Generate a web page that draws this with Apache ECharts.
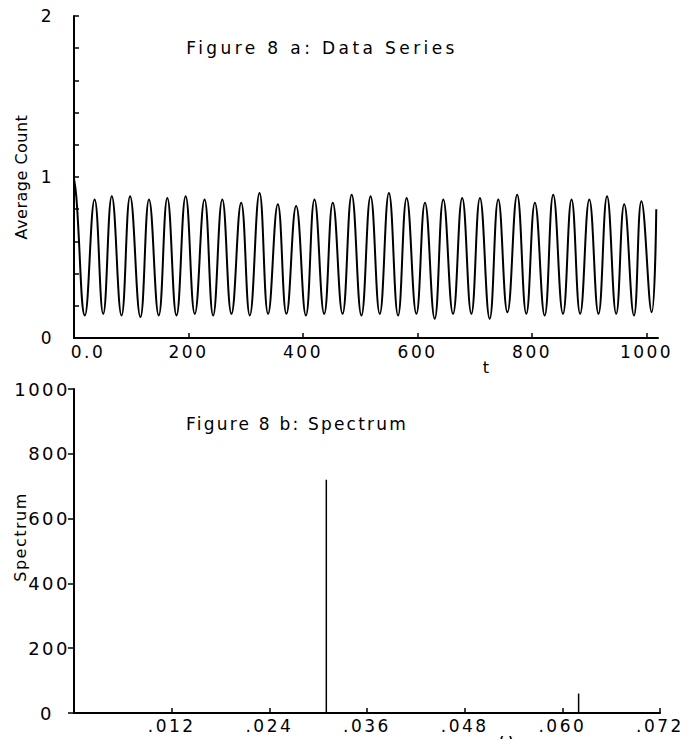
<!DOCTYPE html>
<html>
<head>
<meta charset="utf-8">
<script src="https://cdn.jsdelivr.net/npm/echarts@6/dist/echarts.min.js"></script>
<style>
  html, body { margin: 0; padding: 0; background: #fff; }
  #chart { width: 690px; height: 739px; }
</style>
</head>
<body>
<div id="chart"></div>
<script>
// Figure 8a: average count over time, sampled at each crest and trough
const timeT = [0, 4, 19, 36, 51, 66, 83, 98, 116, 131, 148, 163, 179, 195, 211, 228,
  243, 259, 275, 292, 307, 324, 339, 356, 371, 388, 405, 420, 437, 452, 469, 485,
  502, 518, 534, 550, 566, 581, 598, 613, 630, 645, 662, 678, 694, 709, 726, 741,
  757, 774, 790, 805, 822, 837, 854, 869, 884, 900, 916, 931, 947, 961, 978, 991,
  1009, 1017];
const averageCount = [0.99, 0.88, 0.14, 0.86, 0.15, 0.88, 0.14, 0.88, 0.13, 0.86, 0.14, 0.87,
  0.14, 0.88, 0.15, 0.86, 0.14, 0.86, 0.15, 0.84, 0.14, 0.90, 0.15, 0.83,
  0.15, 0.82, 0.14, 0.86, 0.15, 0.84, 0.15, 0.89, 0.14, 0.88, 0.15, 0.90,
  0.14, 0.87, 0.15, 0.84, 0.12, 0.86, 0.15, 0.87, 0.15, 0.87, 0.12, 0.86,
  0.16, 0.89, 0.15, 0.84, 0.14, 0.89, 0.15, 0.86, 0.15, 0.86, 0.15, 0.88,
  0.15, 0.83, 0.14, 0.85, 0.16, 0.80];

// Figure 8b: spectrum lines
const omega = [0.031, 0.062];
const spectrum = [720, 60];

// axis tick values
const tTicks = [0, 200, 400, 600, 800, 1000];
const tLabels = [200, 400, 600, 800, 1000];
const countLabels = [0, 1, 2];
const omegaTicks = [0.012, 0.024, 0.036, 0.048, 0.060, 0.072];
const spectrumTicks = [0, 200, 400, 600, 800, 1000];

const FONT = 'DejaVu Sans';
const INK = '#000';

const chart = echarts.init(document.getElementById('chart'), null, { renderer: 'svg' });

const axisLine = { show: true, onZero: false, lineStyle: { color: INK, width: 2 } };

chart.setOption({
  animation: false,
  backgroundColor: '#fff',
  grid: [
    { left: 74, right: 32, top: 16, bottom: 401 },
    { left: 74, right: 30, top: 389, bottom: 26 }
  ],
  xAxis: [
    {
      type: 'value', gridIndex: 0, min: 0, max: 1020,
      axisLine: axisLine,
      axisTick: { show: true, inside: true, length: 5, customValues: tTicks,
        lineStyle: { color: INK, width: 1.5 } },
      axisLabel: {
        customValues: tLabels, margin: 5, color: INK, fontFamily: FONT, fontSize: 17,
        formatter: v => String(v)
      },
      splitLine: { show: false }
    },
    {
      type: 'value', gridIndex: 1, min: 0, max: 0.072,
      axisLine: axisLine,
      axisTick: { show: true, inside: true, length: 5, customValues: omegaTicks,
        lineStyle: { color: INK, width: 1.5 } },
      axisLabel: {
        customValues: omegaTicks, margin: 4, color: INK, fontFamily: FONT, fontSize: 17,
        formatter: v => v.toFixed(3).replace(/^0/, '')
      },
      splitLine: { show: false }
    }
  ],
  yAxis: [
    {
      type: 'value', gridIndex: 0, min: 0, max: 2, interval: 0.2,
      axisLine: axisLine,
      axisTick: { show: true, inside: true, length: 5, lineStyle: { color: INK, width: 1.5 } },
      axisLabel: {
        customValues: countLabels, margin: 20, color: INK, fontFamily: FONT, fontSize: 17,
        formatter: v => String(Math.round(v))
      },
      name: 'Average Count', nameLocation: 'middle', nameGap: 45,
      nameTextStyle: { color: INK, fontFamily: FONT, fontSize: 16 },
      splitLine: { show: false }
    },
    {
      type: 'value', gridIndex: 1, min: 0, max: 1000, interval: 200,
      axisLine: axisLine,
      axisTick: { show: true, inside: false, length: 6, lineStyle: { color: INK, width: 1.5 } },
      axisLabel: {
        customValues: spectrumTicks,
        margin: 4, color: INK, fontFamily: FONT, fontSize: 18,
        formatter: v => v === 0 ? '{zero|0}' : String(v),
        rich: { zero: { padding: [0, 16, 0, 0], fontFamily: FONT, fontSize: 18, color: INK } }
      },
      splitLine: { show: false }
    }
  ],
  graphic: [
    { type: 'text', x: 322, y: 48,
      style: { text: 'Figure 8 a: Data Series', align: 'center', verticalAlign: 'middle',
        fill: INK, font: '17px ' + FONT } },
    { type: 'text', x: 297, y: 424,
      style: { text: 'Figure 8 b: Spectrum', align: 'center', verticalAlign: 'middle',
        fill: INK, font: '17px ' + FONT } },
    // first label of the time axis sits just right of the origin
    { type: 'text', x: 88, y: 352,
      style: { text: '0.0', align: 'center', verticalAlign: 'middle', fill: INK, font: '17px ' + FONT } },
    { type: 'text', x: 486, y: 367,
      style: { text: 't', align: 'center', verticalAlign: 'middle', fill: INK, font: '16px ' + FONT } },
    { type: 'text', x: 506, y: 731,
      style: { text: 'ω', align: 'center', verticalAlign: 'top', fill: INK, font: '17px ' + FONT } },
    { type: 'text', x: 20, y: 537, rotation: Math.PI / 2,
      style: { text: 'Spectrum', align: 'center', verticalAlign: 'middle', fill: INK, font: '16px ' + FONT } }
  ],
  series: [
    {
      type: 'line', xAxisIndex: 0, yAxisIndex: 0,
      data: timeT.map((t, i) => [t, averageCount[i]]),
      smooth: 0.45, showSymbol: false, symbol: 'none',
      lineStyle: { color: INK, width: 2 }
    },
    {
      type: 'bar', xAxisIndex: 1, yAxisIndex: 1,
      data: omega.map((w, i) => [w, spectrum[i]]),
      barWidth: 1.5, itemStyle: { color: INK }
    }
  ]
});

// wide lettering, tuned per text; numbers share one spacing
const SPACING = {
  'Figure 8 a: Data Series': 3.4,
  'Figure 8 b: Spectrum': 2.2,
  'Average Count': 0.5,
  'Spectrum': 1.5,
  't': 0,
  'ω': 0
};
function applySpacing() {
  document.querySelectorAll('#chart svg text').forEach(el => {
    const s = SPACING[el.textContent];
    el.setAttribute('letter-spacing', (s === undefined ? 2.5 : s) + 'px');
  });
}
chart.on('rendered', applySpacing);
applySpacing();
setTimeout(applySpacing, 0);
</script>
</body>
</html>
